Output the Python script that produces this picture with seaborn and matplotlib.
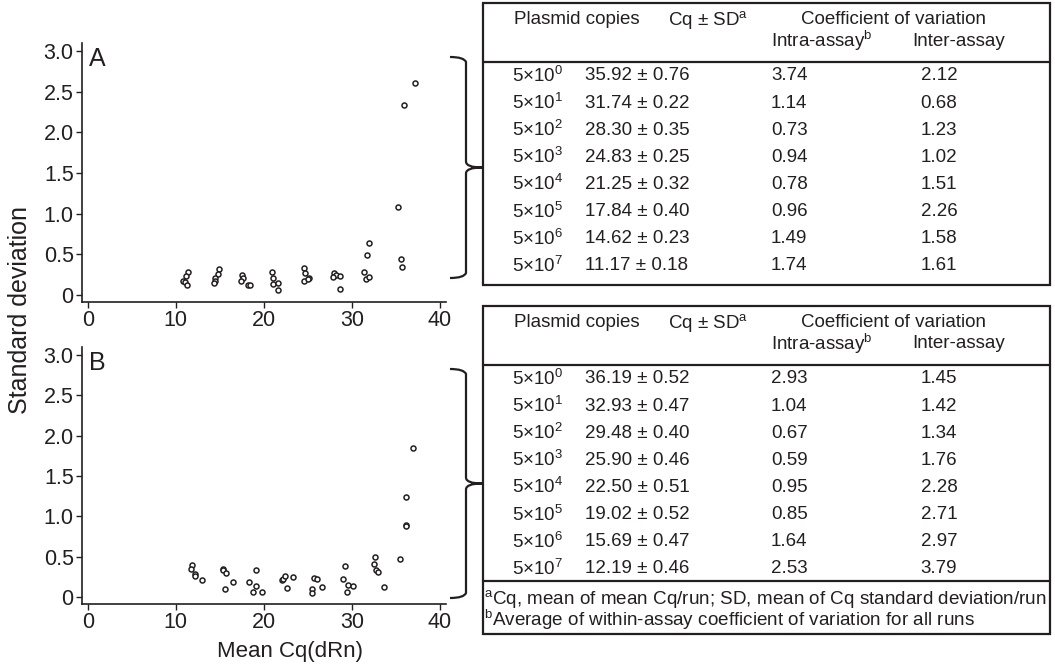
import numpy as np
import pandas as pd
import matplotlib
matplotlib.use("Agg")
import matplotlib.pyplot as plt
import seaborn as sns
from matplotlib.path import Path
from matplotlib.patches import PathPatch, Rectangle
from matplotlib.lines import Line2D
from matplotlib.ticker import FuncFormatter

# ---------------- data ----------------
a_cq = [11.36, 11.17, 10.86, 11.06, 11.28,
        14.92, 14.81, 14.50, 14.43, 14.35,
        17.50, 17.65, 17.45, 18.18, 18.40,
        20.90, 21.02, 21.10, 21.60, 21.60,
        24.58, 24.70, 24.60, 25.10, 25.00,
        28.03, 28.20, 27.90, 28.67, 28.70,
        31.93, 31.78, 31.44, 31.60, 32.00,
        37.23, 35.90, 35.23, 35.64, 35.72]
a_sd = [0.287, 0.234, 0.176, 0.154, 0.127,
        0.316, 0.254, 0.205, 0.176, 0.152,
        0.242, 0.205, 0.176, 0.119, 0.123,
        0.279, 0.205, 0.135, 0.152, 0.066,
        0.332, 0.267, 0.172, 0.209, 0.200,
        0.275, 0.246, 0.221, 0.234, 0.070,
        0.636, 0.492, 0.283, 0.201, 0.225,
        2.610, 2.340, 1.086, 0.443, 0.348]

b_cq = [11.89, 11.74, 12.16, 12.23, 12.99,
        15.34, 15.41, 15.72, 16.48, 15.65,
        19.09, 18.36, 19.16, 18.75, 19.77,
        22.05, 22.19, 22.38, 23.33, 22.61,
        25.75, 26.10, 26.59, 25.52, 25.52,
        29.20, 29.05, 29.62, 30.11, 29.47,
        32.69, 32.50, 32.77, 33.03, 33.70,
        36.93, 36.17, 36.17, 36.20, 35.45]
b_sd = [0.397, 0.348, 0.286, 0.266, 0.216,
        0.352, 0.336, 0.295, 0.188, 0.102,
        0.336, 0.188, 0.143, 0.057, 0.057,
        0.209, 0.225, 0.262, 0.249, 0.114,
        0.237, 0.225, 0.130, 0.098, 0.049,
        0.388, 0.229, 0.147, 0.135, 0.057,
        0.499, 0.413, 0.335, 0.315, 0.123,
        1.843, 1.236, 0.888, 0.880, 0.470]

copies_exp = ["0", "1", "2", "3", "4", "5", "6", "7"]
a_cq_sd = ["35.92 ± 0.76", "31.74 ± 0.22", "28.30 ± 0.35", "24.83 ± 0.25",
           "21.25 ± 0.32", "17.84 ± 0.40", "14.62 ± 0.23", "11.17 ± 0.18"]
a_intra = ["3.74", "1.14", "0.73", "0.94", "0.78", "0.96", "1.49", "1.74"]
a_inter = ["2.12", "0.68", "1.23", "1.02", "1.51", "2.26", "1.58", "1.61"]
b_cq_sd = ["36.19 ± 0.52", "32.93 ± 0.47", "29.48 ± 0.40", "25.90 ± 0.46",
           "22.50 ± 0.51", "19.02 ± 0.52", "15.69 ± 0.47", "12.19 ± 0.46"]
b_intra = ["2.93", "1.04", "0.67", "0.59", "0.95", "0.85", "1.64", "2.53"]
b_inter = ["1.45", "1.42", "1.34", "1.76", "2.28", "2.71", "2.97", "3.79"]

x_ticks = [0, 10, 20, 30, 40]
y_ticks = [0, 0.5, 1.0, 1.5, 2.0, 2.5, 3.0]
footnotes = ["$^\\mathregular{a}$Cq, mean of mean Cq/run; SD, mean of Cq standard deviation/run",
             "$^\\mathregular{b}$Average of within-assay coefficient of variation for all runs"]

# ---------------- style ----------------
sns.set_style("ticks")
plt.rcParams["font.family"] = ["Liberation Sans", "DejaVu Sans"]
plt.rcParams["mathtext.fontset"] = "custom"
plt.rcParams["mathtext.rm"] = "Liberation Sans"
plt.rcParams["mathtext.it"] = "Liberation Sans:italic"
plt.rcParams["mathtext.bf"] = "Liberation Sans:bold"
INK = "#231f20"

W, H = 1055, 668
fig = plt.figure(figsize=(W / 100, H / 100), dpi=100)

def fx(x):
    return x / W

def fy(y):
    return 1 - y / H

axA = fig.add_axes([fx(82), fy(302), fx(446) - fx(82), fy(43) - fy(302)])
axB = fig.add_axes([fx(82), fy(604), fx(446) - fx(82), fy(347) - fy(604)])

dfA = pd.DataFrame({"cq": a_cq, "sd": a_sd})
dfB = pd.DataFrame({"cq": b_cq, "sd": b_sd})

for ax, df, letter in [(axA, dfA, "A"), (axB, dfB, "B")]:
    sns.scatterplot(data=df, x="cq", y="sd", ax=ax, s=13, marker="o",
                    facecolor="white", edgecolor=INK, linewidth=1.1, zorder=3)
    ax.set_xlim(-0.65, 40.7)
    ax.set_ylim(-0.086, 3.1)
    ax.set_xticks(x_ticks)
    ax.set_yticks(y_ticks)
    ax.yaxis.set_major_formatter(FuncFormatter(lambda v, p: "0" if v == 0 else f"{v:.1f}"))
    ax.tick_params(axis="both", direction="out", length=4, width=1, colors=INK,
                   labelsize=15.5, pad=2)
    for s in ["top", "right"]:
        ax.spines[s].set_visible(False)
    for s in ["left", "bottom"]:
        ax.spines[s].set_color(INK)
        ax.spines[s].set_linewidth(1.2)
    ax.set_xlabel("")
    ax.set_ylabel("")
    ax.text(0.02, 0.985, letter, transform=ax.transAxes, fontsize=18,
            color=INK, ha="left", va="top")

fig.text(fx(20), fy(310), "Standard deviation", rotation=90, ha="center",
         va="center", fontsize=18, color=INK)
fig.text(fx(290), fy(652), "Mean Cq(dRn)", ha="center", va="center",
         fontsize=16, color=INK)

# ---------------- braces ----------------
def brace(top, bot, xl=450, xv=466, xt=482):
    mid = (top + bot) / 2
    pts = [(xl, top), (xv - 2, top), (xv, top + 5),
           (xv, mid - 6),
           (xv, mid), (xt, mid),
           (xv, mid), (xv, mid + 6),
           (xv, bot - 5),
           (xv - 2, bot), (xl, bot)]
    codes = [Path.MOVETO, Path.CURVE3, Path.CURVE3,
             Path.LINETO,
             Path.CURVE3, Path.CURVE3,
             Path.CURVE3, Path.CURVE3,
             Path.LINETO,
             Path.CURVE3, Path.CURVE3]
    verts = [(fx(x), fy(y)) for x, y in pts]
    patch = PathPatch(Path(verts, codes), transform=fig.transFigure,
                      facecolor="none", edgecolor=INK, linewidth=1.6)
    fig.patches.append(patch)

brace(57, 278)
brace(369, 598)

# ---------------- tables ----------------
FS = 13.5

def T(x, y, s, ha="left", size=FS):
    fig.text(fx(x), fy(y), s, ha=ha, va="center", fontsize=size, color=INK)

def hline(y, x0=483, x1=1050, lw=1.6):
    fig.lines.append(Line2D([fx(x0), fx(x1)], [fy(y), fy(y)],
                            transform=fig.transFigure, color=INK, linewidth=lw))

def box(x0, y0, x1, y1, lw=1.6):
    fig.patches.append(Rectangle((fx(x0), fy(y1)), fx(x1) - fx(x0), fy(y0) - fy(y1),
                                 transform=fig.transFigure, fill=False,
                                 edgecolor=INK, linewidth=lw))

def table(top, cq_sd, intra, inter):
    T(514, top + 17, "Plasmid copies")
    T(668, top + 17, "Cq ± SD$^\\mathregular{a}$")
    T(801, top + 17, "Coefficient of variation")
    T(771, top + 38, "Intra-assay$^\\mathregular{b}$")
    T(912, top + 38, "Inter-assay")
    hline(top + 59)
    for i in range(len(cq_sd)):
        y = top + 73 + i * 27.1
        T(512, y, "5×10$^\\mathregular{" + copies_exp[i] + "}$")
        T(585, y, cq_sd[i])
        T(771, y, intra[i])
        T(939, y, inter[i], ha="center")

box(483, 3, 1050, 285)
table(3, a_cq_sd, a_intra, a_inter)

box(483, 306, 1050, 634)
table(306, b_cq_sd, b_intra, b_inter)
hline(581)
T(484, 599, footnotes[0], size=13.6)
T(484, 620, footnotes[1], size=13.6)

fig.savefig("out.png", dpi=100)
